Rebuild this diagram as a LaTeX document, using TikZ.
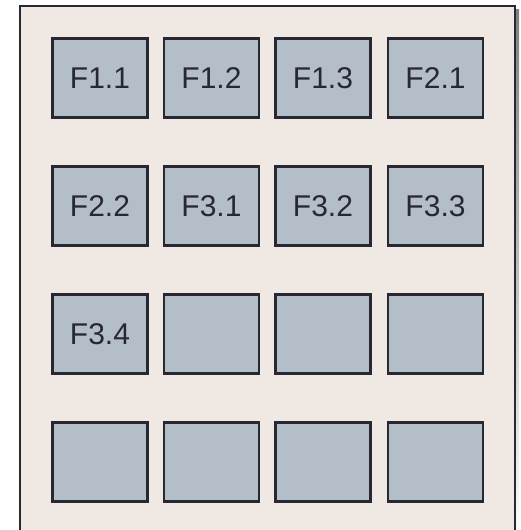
\documentclass[tikz,border=0pt]{standalone}
\usepackage{fontspec}
\setmainfont{Liberation Sans}
\definecolor{panelfill}{RGB}{240,233,227}
\definecolor{cellfill}{RGB}{180,190,200}
\definecolor{edge}{RGB}{40,40,50}
\definecolor{shade}{RGB}{120,120,125}
\usetikzlibrary{positioning}
\tikzset{
  cell/.style={rectangle,draw=edge,line width=2.2pt,fill=cellfill,
               minimum width=95pt,minimum height=79pt,inner sep=0pt,
               text=edge,font=\fontsize{30}{32}\selectfont},
  panel/.style={rectangle,draw=edge,line width=2.4pt,fill=panelfill},
}
\begin{document}
\begin{tikzpicture}[x=1pt,y=-1pt]

    \useasboundingbox (0,0) rectangle (520,530);

    % Panel with shadow
    \begin{scope}
      \clip (0,0) rectangle (520,530);
      \fill[shade] (23,9) rectangle (519,545);
      \draw[panel] (20,6) rectangle (515,545);
    \end{scope}

    % Row 1
    \node[cell] (f11) at (100,78)   {F1.1};
    \node[cell] (f12) at (211.5,78) {F1.2};
    \node[cell] (f13) at (323,78)   {F1.3};
    \node[cell] (f21) at (435.5,78) {F2.1};

    % Row 2
    \node[cell] (f22) at (100,206)   {F2.2};
    \node[cell] (f31) at (211.5,206) {F3.1};
    \node[cell] (f32) at (323,206)   {F3.2};
    \node[cell] (f33) at (435.5,206) {F3.3};

    % Row 3
    \node[cell] (f34) at (100,334)   {F3.4};
    \node[cell] (e32) at (211.5,334) {};
    \node[cell] (e33) at (323,334)   {};
    \node[cell] (e34) at (435.5,334) {};

    % Row 4
    \node[cell] (e41) at (100,462)   {};
    \node[cell] (e42) at (211.5,462) {};
    \node[cell] (e43) at (323,462)   {};
    \node[cell] (e44) at (435.5,462) {};

  \end{tikzpicture}
\end{document}
